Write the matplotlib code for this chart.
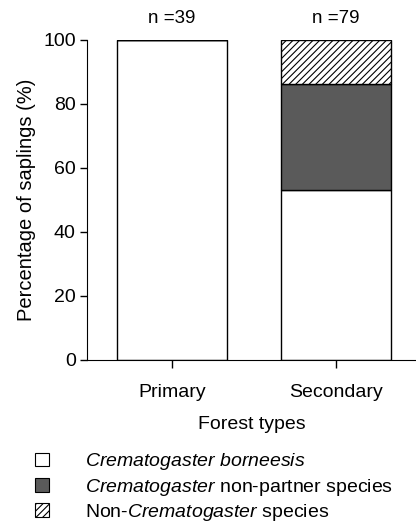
import matplotlib.pyplot as plt
from matplotlib.patches import Patch

plt.rcParams["font.family"] = ["Liberation Sans", "DejaVu Sans"]
plt.rcParams["mathtext.fontset"] = "custom"
plt.rcParams["mathtext.it"] = "Liberation Sans:italic"
plt.rcParams["mathtext.rm"] = "Liberation Sans"
plt.rcParams["hatch.linewidth"] = 0.8

# data (percent of saplings)
forest_types = ["Primary", "Secondary"]
n_saplings = [39, 79]
borneensis = [100, 53.2]
non_partner = [0, 32.9]
non_crema = [0, 13.9]

fig = plt.figure(figsize=(4.16, 5.26), dpi=100)
ax = fig.add_axes([0.209, 0.3156, 0.791, 0.6084])

x = range(len(forest_types))
w = 0.675
ax.bar(x, borneensis, w, color="white", edgecolor="black", linewidth=1)
ax.bar(x, non_partner, w, bottom=borneensis, color="#5a5a5a",
       edgecolor="black", linewidth=1)
bottoms = [a + b for a, b in zip(borneensis, non_partner)]
ax.bar(x, non_crema, w, bottom=bottoms, color="white", hatch="/////",
       edgecolor="black", linewidth=1)

for i, n in enumerate(n_saplings):
    ax.text(i, 104, "n =%d" % n, ha="center", va="bottom", fontsize=13.5,
            clip_on=False)

ax.set_xlim(-0.52, 1.49)
ax.set_ylim(0, 100)
ax.set_yticks([0, 20, 40, 60, 80, 100])
ax.set_xticks(list(x))
ax.set_xticklabels(forest_types, fontsize=14)
ax.tick_params(axis="y", labelsize=14, length=5, width=1, pad=3)
ax.tick_params(axis="x", length=6, width=1, pad=11)
ax.spines["top"].set_visible(False)
ax.spines["right"].set_visible(False)
ax.set_ylabel("Percentage of saplings (%)", fontsize=14.5, labelpad=5)
ax.set_xlabel("Forest types", fontsize=14, labelpad=11)

handles = [
    Patch(facecolor="white", edgecolor="black", linewidth=0.8),
    Patch(facecolor="#5a5a5a", edgecolor="black", linewidth=0.8),
    Patch(facecolor="white", edgecolor="black", hatch="/////", linewidth=0.8),
]
labels = [
    r"$\it{Crematogaster\ borneesis}$",
    r"$\it{Crematogaster}$ non-partner species",
    r"Non-$\it{Crematogaster}$ species",
]
fig.legend(handles, labels, loc="upper left", bbox_to_anchor=(0.085, 0.142),
           frameon=False, fontsize=14, handlelength=0.72, handleheight=0.72,
           handletextpad=1.85, labelspacing=0.22, borderpad=0,
           borderaxespad=0)

fig.savefig("out.png", dpi=100)
